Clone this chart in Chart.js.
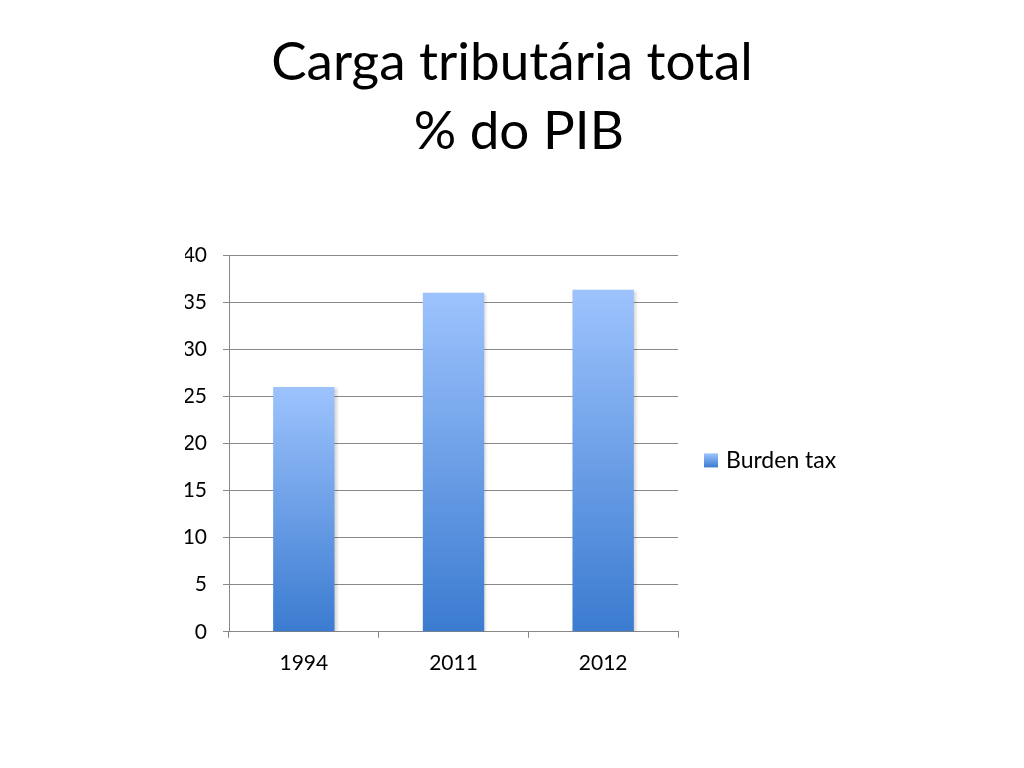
<!DOCTYPE html>
<html lang="pt">
<head>
<meta charset="UTF-8">
<title>Carga tributária total</title>
<script src="https://cdn.jsdelivr.net/npm/chart.js"></script>
<style>
  html, body { margin: 0; padding: 0; background: #fff; }
  #wrap { width: 1024px; height: 768px; }
</style>
</head>
<body>
<div id="wrap"><canvas id="chart" width="1024" height="768"></canvas></div>
<script>
// data
const years = ['1994', '2011', '2012'];
const burdenTax = [26, 36, 36.3];
const seriesLabel = 'Burden tax';
const titleLines = ['Carga tributária total', ' % do PIB'];

const FONT = 'Lato, "Liberation Sans", sans-serif';
const TOP_COLOR = '#9dc3fd';
const BASE_COLOR = '#3b7bd0';

// light at bar top, darker at the base, like the slide
function barGradient(context) {
  const chart = context.chart;
  const { ctx, chartArea, scales } = chart;
  if (!chartArea || context.dataIndex === undefined) return '#6b9de8';
  const top = scales.y.getPixelForValue(context.raw);
  const bottom = scales.y.getPixelForValue(0);
  const g = ctx.createLinearGradient(0, top, 0, bottom);
  g.addColorStop(0, TOP_COLOR);
  g.addColorStop(1, BASE_COLOR);
  return g;
}

// soft shadow to the right of the bars
const barShadow = {
  id: 'barShadow',
  beforeDatasetsDraw(chart) {
    const ctx = chart.ctx;
    ctx.save();
    ctx.shadowColor = 'rgba(0,0,0,0.18)';
    ctx.shadowOffsetX = 2;
    ctx.shadowOffsetY = 1;
    ctx.shadowBlur = 3;
  },
  afterDatasetsDraw(chart) {
    chart.ctx.restore();
  }
};

// slide title, centred on the whole page rather than the plot
const slideTitle = {
  id: 'slideTitle',
  afterDraw(chart) {
    const ctx = chart.ctx;
    ctx.save();
    ctx.fillStyle = '#000';
    ctx.font = '53px ' + FONT;
    ctx.textAlign = 'center';
    ctx.textBaseline = 'middle';
    titleLines.forEach((line, i) => {
      ctx.fillText(line, chart.width / 2, 63 + i * 69);
    });
    ctx.restore();
  }
};

// legend to the right of the plot
const sideLegend = {
  id: 'sideLegend',
  afterDraw(chart) {
    const { ctx, chartArea } = chart;
    const x = chartArea.right + 26;
    const yMid = (chartArea.top + chartArea.bottom) / 2 + 17;
    const size = 14;
    const g = ctx.createLinearGradient(0, yMid - size / 2, 0, yMid + size / 2);
    g.addColorStop(0, TOP_COLOR);
    g.addColorStop(1, BASE_COLOR);
    ctx.save();
    ctx.fillStyle = g;
    ctx.fillRect(x, yMid - size / 2, size, size);
    ctx.fillStyle = '#000';
    ctx.font = '23px ' + FONT;
    ctx.textBaseline = 'middle';
    ctx.textAlign = 'left';
    ctx.fillText(chart.data.datasets[0].label, x + size + 8, yMid);
    ctx.restore();
  }
};

new Chart(document.getElementById('chart'), {
  type: 'bar',
  data: {
    labels: years,
    datasets: [{
      label: seriesLabel,
      data: burdenTax,
      backgroundColor: barGradient,
      borderWidth: 0,
      barPercentage: 0.82,
      categoryPercentage: 0.5
    }]
  },
  plugins: [barShadow, slideTitle, sideLegend],
  options: {
    responsive: false,
    animation: false,
    layout: { padding: { left: 185, right: 346, bottom: 79, top: 255 } },
    plugins: {
      title: { display: false },
      legend: { display: false },
      tooltip: { enabled: false }
    },
    scales: {
      x: {
        grid: {
          display: true,
          offset: true,
          drawOnChartArea: false,
          drawTicks: true,
          tickLength: 6,
          color: '#888'
        },
        border: { display: true, color: '#888', width: 1 },
        ticks: { color: '#000', font: { family: FONT, size: 21 }, padding: 13 }
      },
      y: {
        min: 0,
        max: 40,
        afterFit: (scale) => { scale.width = 44; },
        grid: { color: '#888', tickLength: 6, drawTicks: true },
        border: { display: true, color: '#888', width: 1 },
        ticks: { stepSize: 5, color: '#000', font: { family: FONT, size: 21 }, padding: 16 }
      }
    }
  }
});
</script>
</body>
</html>
